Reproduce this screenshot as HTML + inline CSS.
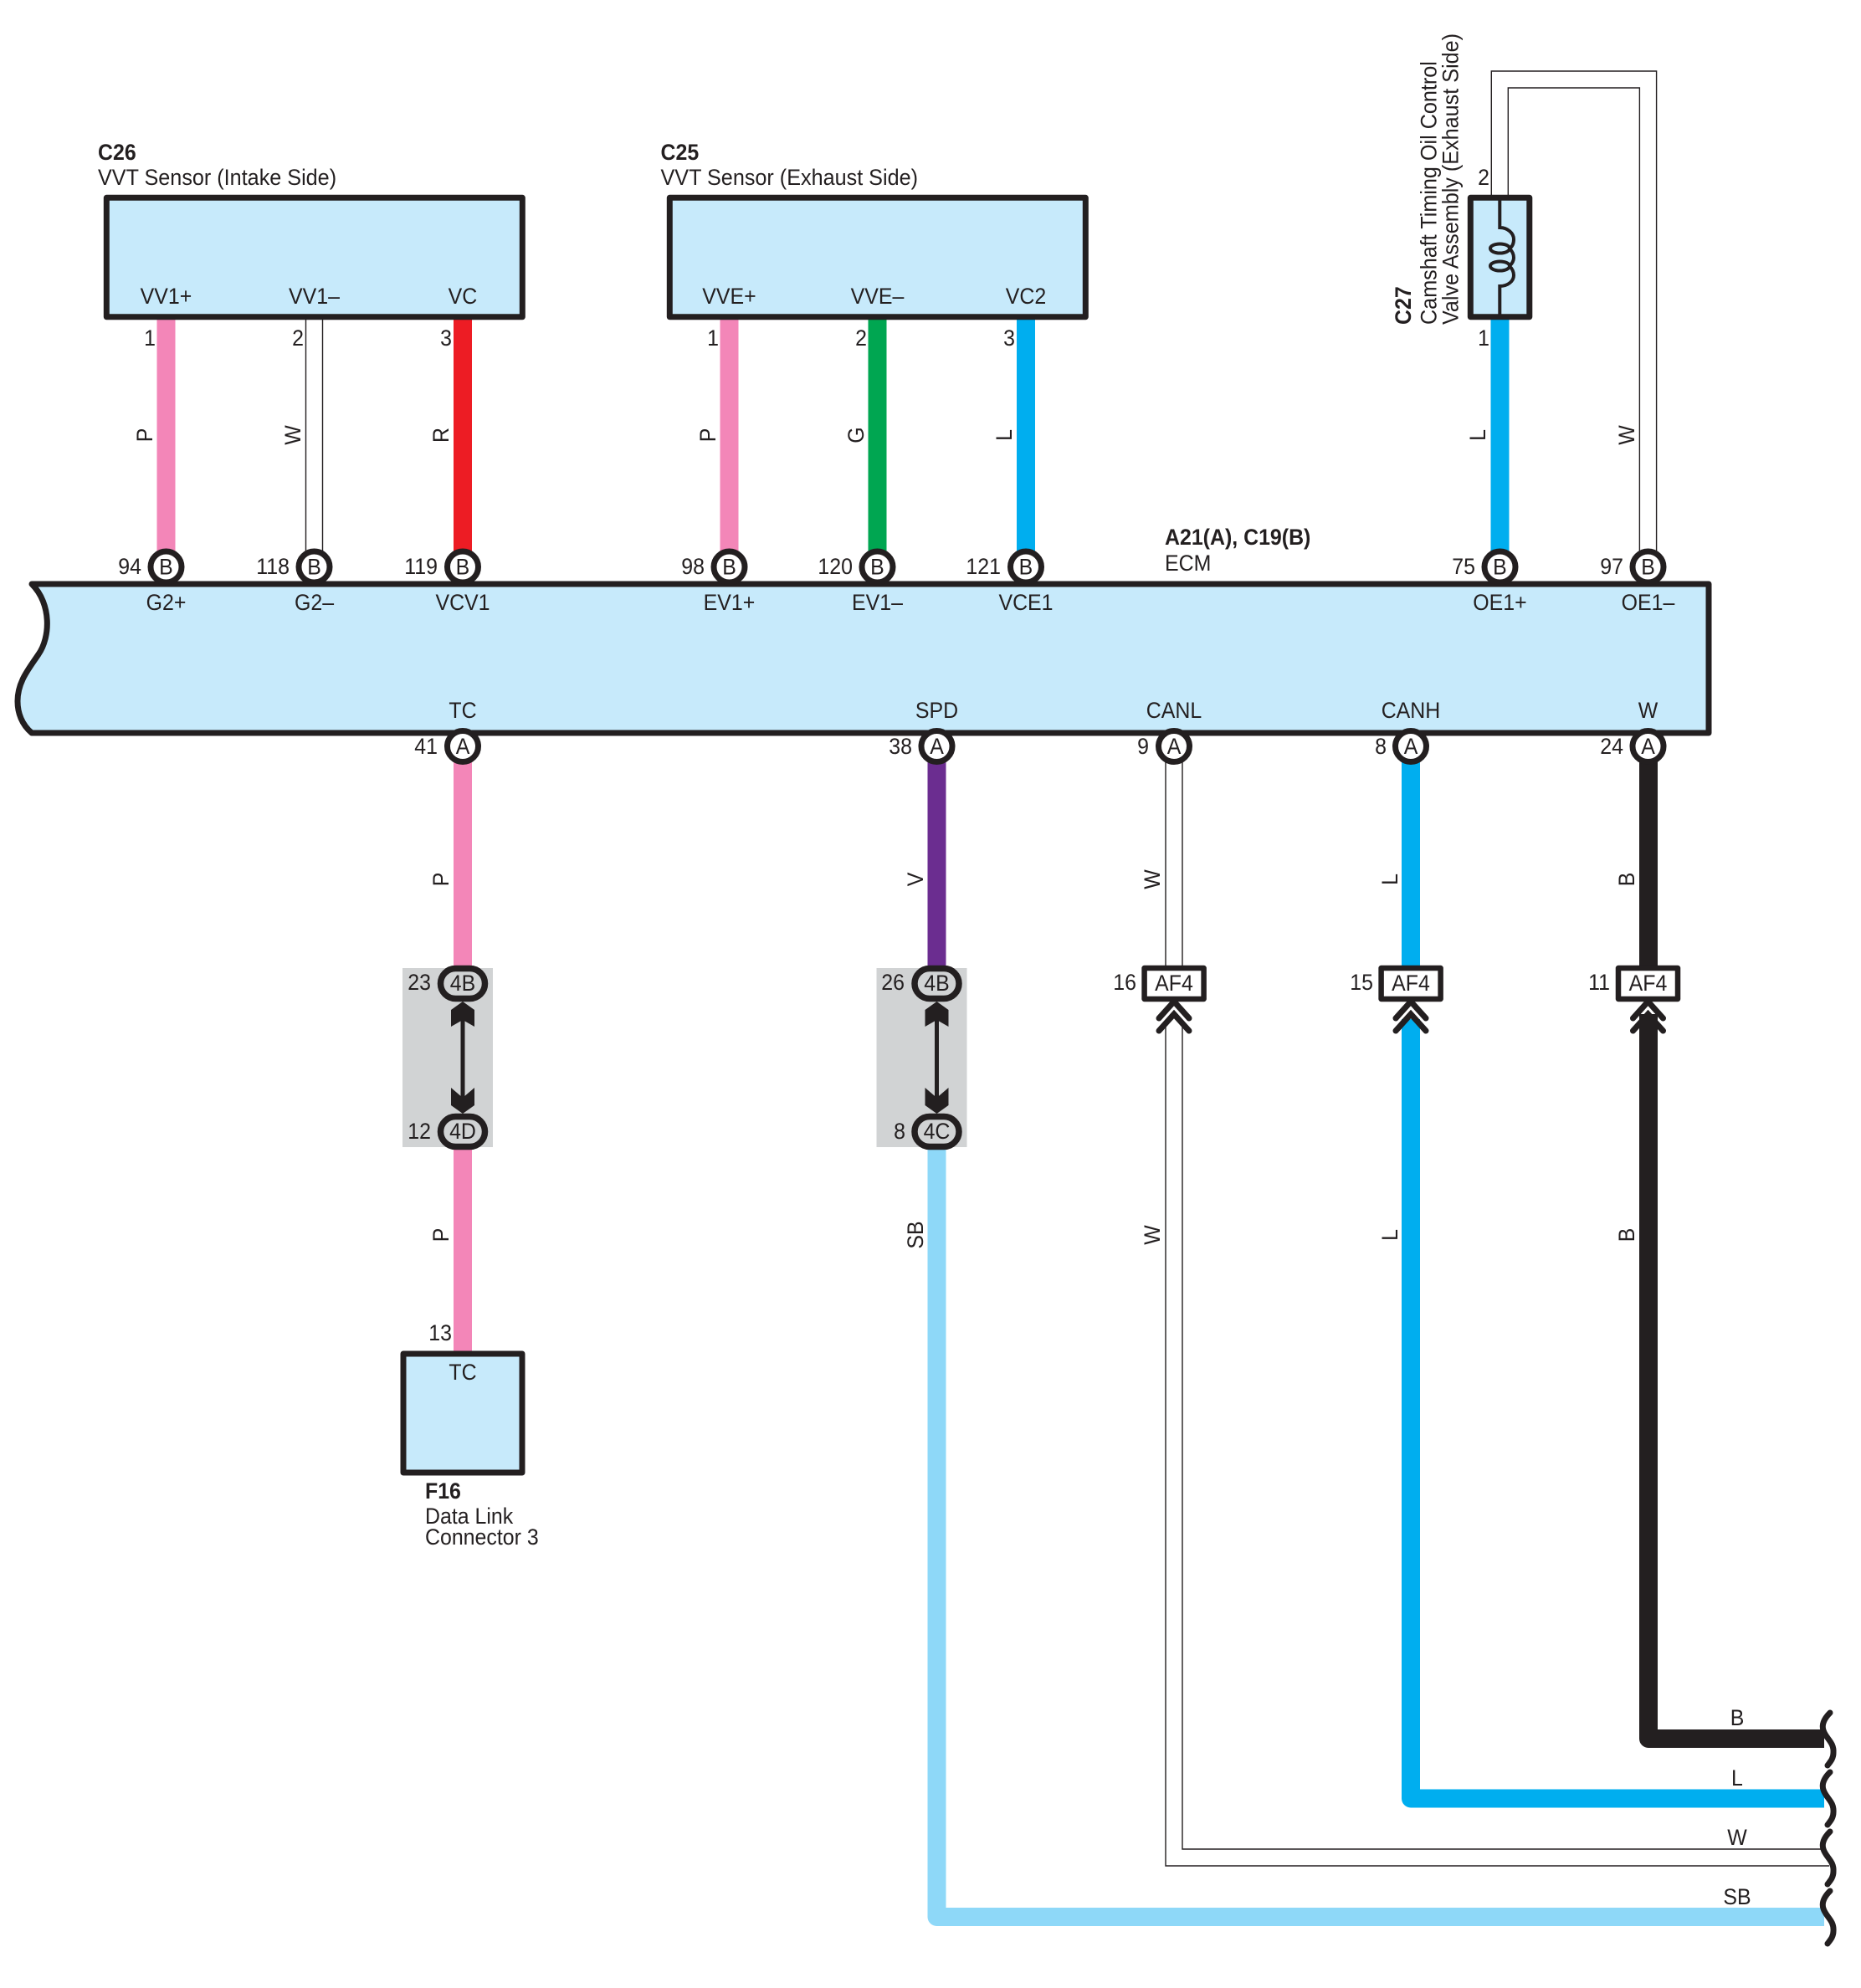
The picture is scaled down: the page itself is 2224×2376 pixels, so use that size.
<!DOCTYPE html>
<html><head><meta charset="utf-8"><style>
html,body{margin:0;padding:0;background:#fff}
svg{display:block}
text{font-family:"Liberation Sans",sans-serif;font-size:26.8px;fill:#231f20;transform-box:fill-box;transform:scaleX(.93);transform-origin:0% 100%}
.c{text-anchor:middle;transform-origin:50% 100%}.e{text-anchor:end;transform-origin:100% 100%}.b{font-weight:bold}
.l{transform:scaleX(.94)}
.k{fill:#c7eafb;stroke:#231f20;stroke-width:7;stroke-linejoin:round}
.w{fill:none;stroke-width:22;stroke-linejoin:round;stroke-linecap:butt}
.t{fill:none;stroke:#231f20;stroke-width:1.4}
.o{fill:#fff;stroke:#231f20;stroke-width:7}
.g{fill:#d1d3d4;stroke:#231f20;stroke-width:7.5}
.v{fill:none;stroke:#231f20;stroke-width:7;stroke-linecap:round}
.a{fill:#fff;stroke:#231f20;stroke-width:6.5;stroke-linejoin:round}
</style></head><body>
<svg width="2224" height="2376" viewBox="0 0 2224 2376" xmlns="http://www.w3.org/2000/svg">
<rect width="2224" height="2376" fill="#fff"/>

<!-- grey -->
<rect x="481" y="1157" width="108" height="214" fill="#d1d3d4"/>
<rect x="1047.5" y="1157" width="108" height="214" fill="#d1d3d4"/>

<!-- wires -->
<path class="w" stroke="#f386b8" d="M198.5 380V665"/>
<path class="w" stroke="#ed1c24" d="M553 380V665"/>
<path class="w" stroke="#f386b8" d="M871.5 380V665"/>
<path class="w" stroke="#00a651" d="M1048.5 380V665"/>
<path class="w" stroke="#00aeef" d="M1226 380V665"/>
<path class="w" stroke="#00aeef" d="M1792.5 380V665"/>
<path class="t" d="M365.5 380V665M385.5 380V665"/>
<path class="t" d="M1782.3 236V85H1979.6V665M1802.3 236V105H1959.4V665"/>

<path class="w" stroke="#f386b8" d="M553 900V1165M553 1360V1620"/>
<path class="w" stroke="#6b2d90" d="M1119.5 900V1165"/>
<path class="w" stroke="#8ed8f8" d="M1119.5 1360V2291H2180"/>
<path class="w" stroke="#00aeef" d="M1686 900V1165M1686 1218V2149.5H2180"/>
<path class="w" stroke="#231f20" d="M1970 900V1165M1970 1212V2078H2180"/>
<path class="t" d="M1393 900V1157M1413 900V1157M1393 1226V2230H2186M1413 1226V2210H2176"/>

<!-- component boxes -->
<rect class="k" x="127.3" y="236.3" width="497" height="142.5"/>
<rect class="k" x="800.3" y="236.3" width="497" height="142.5"/>
<rect class="k" x="482" y="1618" width="142" height="142"/>
<rect class="k" x="1757.3" y="236.3" width="70.5" height="142.5"/>
<path fill="none" stroke="#231f20" stroke-width="4" d="M1792.3 236V272C1802 272 1809 279 1809 286C1809 292 1807 295 1804 297M1804 297C1807 300 1809 304 1809 308C1809 312 1807 315 1804 318M1804 318C1807 321 1809 325 1809 329C1809 336 1802 342 1792.3 342V379"/>
<ellipse cx="1792.5" cy="297" rx="11.5" ry="5.5" fill="none" stroke="#231f20" stroke-width="4"/>
<ellipse cx="1792.5" cy="318" rx="11.5" ry="5.5" fill="none" stroke="#231f20" stroke-width="4"/>

<!-- ECM -->
<path class="k" d="M38 698H2042V876H38C26 866 21 852 21 838C21 815 34 800 46 782C60 762 62 722 38 698Z"/>

<!-- upper circles -->
<circle class="o" cx="198.5" cy="677.5" r="18.5"/><circle class="o" cx="375.5" cy="677.5" r="18.5"/><circle class="o" cx="553" cy="677.5" r="18.5"/>
<circle class="o" cx="871.5" cy="677.5" r="18.5"/><circle class="o" cx="1048.5" cy="677.5" r="18.5"/><circle class="o" cx="1226" cy="677.5" r="18.5"/>
<circle class="o" cx="1792.5" cy="677.5" r="18.5"/><circle class="o" cx="1969.5" cy="677.5" r="18.5"/>
<!-- lower circles -->
<circle class="o" cx="553" cy="892" r="18.5"/><circle class="o" cx="1119.5" cy="892" r="18.5"/><circle class="o" cx="1403" cy="892" r="18.5"/><circle class="o" cx="1686" cy="892" r="18.5"/><circle class="o" cx="1969.5" cy="892" r="18.5"/>

<!-- ovals and arrows -->
<rect class="g" x="526.5" y="1157.5" width="53" height="36" rx="18"/>
<rect class="g" x="526.5" y="1334.5" width="53" height="36" rx="18"/>
<rect class="g" x="1093" y="1157.5" width="53" height="36" rx="18"/>
<rect class="g" x="1093" y="1334.5" width="53" height="36" rx="18"/>
<path d="M550.5 1215H555.5V1315H550.5Z" fill="#231f20"/>
<path d="M553 1197L567 1207V1227L553 1219L539 1227V1207Z" fill="#231f20"/>
<path d="M553 1331L567 1321V1300L553 1312L539 1300V1321Z" fill="#231f20"/>
<path d="M1117 1215H1122V1315H1117Z" fill="#231f20"/>
<path d="M1119.5 1197L1133.5 1207V1227L1119.5 1219L1105.5 1227V1207Z" fill="#231f20"/>
<path d="M1119.5 1331L1133.5 1321V1300L1119.5 1312L1105.5 1300V1321Z" fill="#231f20"/>

<!-- AF4 connectors -->
<rect class="a" x="1367.6" y="1157" width="71" height="37"/>
<rect class="a" x="1650.6" y="1157" width="71" height="37"/>
<rect class="a" x="1934" y="1157" width="71" height="37"/>
<path fill="none" stroke="#231f20" stroke-width="7" stroke-linecap="round" stroke-linejoin="miter" d="M1385 1217L1403 1197L1421 1217M1385 1232L1403 1212L1421 1232"/>
<path fill="none" stroke="#231f20" stroke-width="7" stroke-linecap="round" stroke-linejoin="miter" d="M1668 1217L1686 1197L1704 1217M1668 1232L1686 1212L1704 1232"/>
<path fill="none" stroke="#231f20" stroke-width="7" stroke-linecap="round" stroke-linejoin="miter" d="M1951.5 1217L1969.5 1197L1987.5 1217M1951.5 1232L1969.5 1212L1987.5 1232"/>

<!-- wavy breaks -->
<path class="v" d="M2187 2047C2179 2055 2177 2062 2179 2068C2182 2078 2192 2082 2191 2095C2191 2102 2187 2106 2184 2110"/>
<path class="v" d="M2187 2118C2179 2126 2177 2133 2179 2139C2182 2149 2192 2153 2191 2166C2191 2173 2187 2177 2184 2181"/>
<path class="v" d="M2187 2189C2179 2197 2177 2204 2179 2210C2182 2220 2192 2224 2191 2237C2191 2244 2187 2248 2184 2252"/>
<path class="v" d="M2187 2260C2179 2268 2177 2275 2179 2281C2182 2291 2192 2295 2191 2308C2191 2315 2187 2319 2184 2323"/>

<!-- headers -->
<text class="b" x="117" y="191">C26</text>
<text class="l" x="117" y="221">VVT Sensor (Intake Side)</text>
<text class="b" x="789.5" y="191">C25</text>
<text class="l" x="789.5" y="221">VVT Sensor (Exhaust Side)</text>
<text class="b" x="1392" y="651">A21(A), C19(B)</text>
<text x="1392" y="682">ECM</text>
<text class="b" x="508" y="1791">F16</text>
<text x="508" y="1821">Data Link</text>
<text x="508" y="1846">Connector 3</text>
<g transform="translate(1686,388) rotate(-90)"><text class="b">C27</text></g>
<g transform="translate(1716.7,388) rotate(-90)"><text class="l">Camshaft Timing Oil Control</text></g>
<g transform="translate(1742.7,388) rotate(-90)"><text class="l">Valve Assembly (Exhaust Side)</text></g>

<!-- box pin names -->
<text class="c" x="198.5" y="363">VV1+</text><text class="c" x="375.5" y="363">VV1–</text><text class="c" x="553" y="363">VC</text>
<text class="c" x="871.5" y="363">VVE+</text><text class="c" x="1048.5" y="363">VVE–</text><text class="c" x="1226" y="363">VC2</text>
<text class="c" x="553" y="1649">TC</text>

<!-- pin numbers -->
<text class="e" x="186" y="413">1</text><text class="e" x="363" y="413">2</text><text class="e" x="540" y="413">3</text>
<text class="e" x="859" y="413">1</text><text class="e" x="1036" y="413">2</text><text class="e" x="1213" y="413">3</text>
<text class="e" x="1780" y="221">2</text><text class="e" x="1780" y="413">1</text>
<text class="e" x="540" y="1602">13</text>

<text class="e" x="169" y="686">94</text><text class="e" x="346" y="686">118</text><text class="e" x="523" y="686">119</text>
<text class="e" x="842" y="686">98</text><text class="e" x="1019" y="686">120</text><text class="e" x="1196" y="686">121</text>
<text class="e" x="1763" y="686">75</text><text class="e" x="1940" y="686">97</text>
<text class="e" x="523" y="901">41</text><text class="e" x="1090" y="901">38</text><text class="e" x="1373" y="901">9</text><text class="e" x="1657" y="901">8</text><text class="e" x="1940" y="901">24</text>

<!-- circle letters -->
<text class="c" x="198.5" y="686.5">B</text><text class="c" x="375.5" y="686.5">B</text><text class="c" x="553" y="686.5">B</text>
<text class="c" x="871.5" y="686.5">B</text><text class="c" x="1048.5" y="686.5">B</text><text class="c" x="1226" y="686.5">B</text>
<text class="c" x="1792.5" y="686.5">B</text><text class="c" x="1969.5" y="686.5">B</text>
<text class="c" x="553" y="901">A</text><text class="c" x="1119.5" y="901">A</text><text class="c" x="1403" y="901">A</text><text class="c" x="1686" y="901">A</text><text class="c" x="1969.5" y="901">A</text>

<!-- ECM pin names -->
<text class="c" x="198.5" y="729">G2+</text><text class="c" x="375.5" y="729">G2–</text><text class="c" x="553" y="729">VCV1</text>
<text class="c" x="871.5" y="729">EV1+</text><text class="c" x="1048.5" y="729">EV1–</text><text class="c" x="1226" y="729">VCE1</text>
<text class="c" x="1792.5" y="729">OE1+</text><text class="c" x="1969.5" y="729">OE1–</text>
<text class="c" x="553" y="858">TC</text><text class="c" x="1119.5" y="858">SPD</text><text class="c" x="1403" y="858">CANL</text><text class="c" x="1686" y="858">CANH</text><text class="c" x="1969.5" y="858">W</text>

<!-- wire colour letters -->
<g transform="translate(182,520) rotate(-90)"><text class="c">P</text></g>
<g transform="translate(359,520) rotate(-90)"><text class="c">W</text></g>
<g transform="translate(536,520) rotate(-90)"><text class="c">R</text></g>
<g transform="translate(855,520) rotate(-90)"><text class="c">P</text></g>
<g transform="translate(1032,520) rotate(-90)"><text class="c">G</text></g>
<g transform="translate(1209,520) rotate(-90)"><text class="c">L</text></g>
<g transform="translate(1775,520) rotate(-90)"><text class="c">L</text></g>
<g transform="translate(1953,520) rotate(-90)"><text class="c">W</text></g>
<g transform="translate(536,1051) rotate(-90)"><text class="c">P</text></g>
<g transform="translate(1103,1051) rotate(-90)"><text class="c">V</text></g>
<g transform="translate(1386,1051) rotate(-90)"><text class="c">W</text></g>
<g transform="translate(1670,1051) rotate(-90)"><text class="c">L</text></g>
<g transform="translate(1953,1051) rotate(-90)"><text class="c">B</text></g>
<g transform="translate(536,1476) rotate(-90)"><text class="c">P</text></g>
<g transform="translate(1103,1476) rotate(-90)"><text class="c">SB</text></g>
<g transform="translate(1386,1476) rotate(-90)"><text class="c">W</text></g>
<g transform="translate(1670,1476) rotate(-90)"><text class="c">L</text></g>
<g transform="translate(1953,1476) rotate(-90)"><text class="c">B</text></g>

<!-- connector labels -->
<text class="e" x="515" y="1183">23</text><text class="c" x="553" y="1184">4B</text>
<text class="e" x="515" y="1361">12</text><text class="c" x="553" y="1361">4D</text>
<text class="e" x="1081" y="1183">26</text><text class="c" x="1119.5" y="1184">4B</text>
<text class="e" x="1082" y="1361">8</text><text class="c" x="1119.5" y="1361">4C</text>
<text class="e" x="1358" y="1183">16</text><text class="c" x="1403" y="1184">AF4</text>
<text class="e" x="1641" y="1183">15</text><text class="c" x="1686" y="1184">AF4</text>
<text class="e" x="1924" y="1183">11</text><text class="c" x="1969.5" y="1184">AF4</text>

<!-- end letters -->
<text class="c" x="2076" y="2062">B</text><text class="c" x="2076" y="2134">L</text><text class="c" x="2076" y="2205">W</text><text class="c" x="2076" y="2276">SB</text>
</svg>
</body></html>
